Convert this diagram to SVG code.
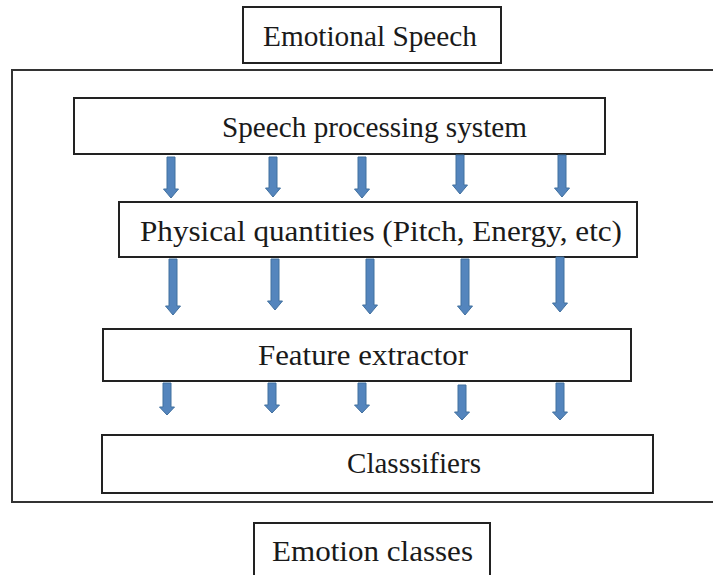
<svg xmlns="http://www.w3.org/2000/svg" width="713" height="575" viewBox="0 0 713 575">
  <defs>
    <style>
      .box { fill: #ffffff; stroke: #222222; stroke-width: 2; }
      .frame { fill: none; stroke: #333333; stroke-width: 2; }
      .label { font-family: "Liberation Serif", "Times New Roman", serif; font-size: 28.5px; fill: #1a1a1a; }
      .arrow { fill: #5485bd; stroke: #41709f; stroke-width: 1; }
    </style>
  </defs>

  <rect width="713" height="575" fill="#ffffff"/>

  <!-- enclosing system frame -->
  <rect class="frame" x="12" y="70" width="702" height="432"/>

  <g id="emotional-speech">
    <rect class="box" x="243" y="7" width="258" height="56"/>
    <text class="label" x="263" y="46" textLength="214" lengthAdjust="spacingAndGlyphs">Emotional Speech</text>
  </g>

  <g id="speech-processing">
    <rect class="box" x="74" y="98" width="531" height="56"/>
    <text class="label" x="222" y="137" textLength="305" lengthAdjust="spacingAndGlyphs">Speech processing system</text>
  </g>

  <g id="physical-quantities">
    <rect class="box" x="119" y="202" width="518" height="55"/>
    <text class="label" x="140" y="241" textLength="482" lengthAdjust="spacingAndGlyphs">Physical quantities (Pitch, Energy, etc)</text>
  </g>

  <g id="feature-extractor">
    <rect class="box" x="103" y="329" width="528" height="52"/>
    <text class="label" x="258" y="365" textLength="210" lengthAdjust="spacingAndGlyphs">Feature extractor</text>
  </g>

  <g id="classifiers">
    <rect class="box" x="102" y="435" width="551" height="58"/>
    <text class="label" x="347" y="473" textLength="134" lengthAdjust="spacingAndGlyphs">Classsifiers</text>
  </g>

  <g id="emotion-classes">
    <rect class="box" x="254" y="523" width="236" height="56"/>
    <text class="label" x="272" y="561" textLength="201" lengthAdjust="spacingAndGlyphs">Emotion classes</text>
  </g>

  <g id="connectors">
    <!-- speech processing -> physical quantities -->
    <path class="arrow" d="M 167 157 h 8 v 32 h 3.5 l -7.5 9 l -7.5 -9 h 3.5 z"/>
    <path class="arrow" d="M 269 157 h 8 v 31 h 3.5 l -7.5 9 l -7.5 -9 h 3.5 z"/>
    <path class="arrow" d="M 358 157 h 8 v 32 h 3.5 l -7.5 9 l -7.5 -9 h 3.5 z"/>
    <path class="arrow" d="M 456 155 h 8 v 30 h 3.5 l -7.5 9 l -7.5 -9 h 3.5 z"/>
    <path class="arrow" d="M 558 155 h 8 v 33 h 3.5 l -7.5 9 l -7.5 -9 h 3.5 z"/>

    <!-- physical quantities -> feature extractor -->
    <path class="arrow" d="M 169 259 h 8 v 47 h 3.5 l -7.5 9 l -7.5 -9 h 3.5 z"/>
    <path class="arrow" d="M 271 259 h 8 v 42 h 3.5 l -7.5 9 l -7.5 -9 h 3.5 z"/>
    <path class="arrow" d="M 366 259 h 8 v 46 h 3.5 l -7.5 9 l -7.5 -9 h 3.5 z"/>
    <path class="arrow" d="M 461 259 h 8 v 47 h 3.5 l -7.5 9 l -7.5 -9 h 3.5 z"/>
    <path class="arrow" d="M 556 257 h 8 v 46 h 3.5 l -7.5 9 l -7.5 -9 h 3.5 z"/>

    <!-- feature extractor -> classifiers -->
    <path class="arrow" d="M 163 383 h 8 v 24 h 3.5 l -7.5 8 l -7.5 -8 h 3.5 z"/>
    <path class="arrow" d="M 268 383 h 8 v 22 h 3.5 l -7.5 8 l -7.5 -8 h 3.5 z"/>
    <path class="arrow" d="M 358 383 h 8 v 22 h 3.5 l -7.5 8 l -7.5 -8 h 3.5 z"/>
    <path class="arrow" d="M 458 385 h 8 v 27 h 3.5 l -7.5 8 l -7.5 -8 h 3.5 z"/>
    <path class="arrow" d="M 556 383 h 8 v 29 h 3.5 l -7.5 8 l -7.5 -8 h 3.5 z"/>
  </g>
</svg>
